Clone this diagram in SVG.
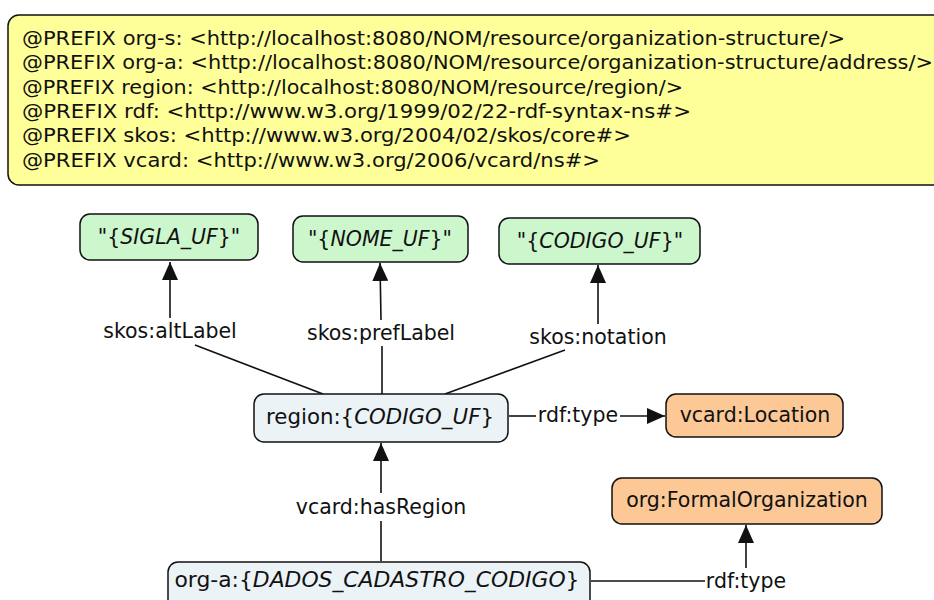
<svg xmlns="http://www.w3.org/2000/svg" width="934" height="600" viewBox="0 0 934 600">
<defs>
<style>
text{font-family:"DejaVu Sans","Verdana",sans-serif;fill:#111;}
.hdr{font-size:19px;}
.lbl{font-size:20.5px;text-anchor:middle;dominant-baseline:central;}
.nd{stroke:#111;stroke-width:1.5;}
.lit{fill:#ccf7cc;}
.res{fill:#ebf3f6;}
.cls{fill:#fbc896;}
.edge{stroke:#111;stroke-width:1.6;fill:none;}
</style>
<marker id="arrL" viewBox="0 0 18 16" refX="18" refY="8" markerWidth="18" markerHeight="16" markerUnits="userSpaceOnUse" orient="auto">
<path d="M0,0 L18,8 L0,16 z" fill="#111"/>
</marker>
</defs>
<rect width="934" height="600" fill="#fff"/>
<g id="prefixes">
<rect x="8" y="15" width="940" height="170" rx="11" fill="#ffff99" class="nd"/>
<text class="hdr" x="22" y="45" textLength="823" lengthAdjust="spacingAndGlyphs">@PREFIX org-s: &lt;http://localhost:8080/NOM/resource/organization-structure/&gt;</text>
<text class="hdr" x="22" y="69" textLength="911" lengthAdjust="spacingAndGlyphs">@PREFIX org-a: &lt;http://localhost:8080/NOM/resource/organization-structure/address/&gt;</text>
<text class="hdr" x="22" y="94" textLength="661" lengthAdjust="spacingAndGlyphs">@PREFIX region: &lt;http://localhost:8080/NOM/resource/region/&gt;</text>
<text class="hdr" x="22" y="118" textLength="669" lengthAdjust="spacingAndGlyphs">@PREFIX rdf: &lt;http://www.w3.org/1999/02/22-rdf-syntax-ns#&gt;</text>
<text class="hdr" x="22" y="142" textLength="609" lengthAdjust="spacingAndGlyphs">@PREFIX skos: &lt;http://www.w3.org/2004/02/skos/core#&gt;</text>
<text class="hdr" x="22" y="167" textLength="578" lengthAdjust="spacingAndGlyphs">@PREFIX vcard: &lt;http://www.w3.org/2006/vcard/ns#&gt;</text>
</g>
<g id="connectors">
<polyline class="edge" points="323,394 195,345"/>
<line class="edge" x1="170" y1="318" x2="170" y2="262" marker-end="url(#arrL)"/>
<text class="lbl" x="170" y="331">skos:altLabel</text>
<line class="edge" x1="382" y1="394" x2="382" y2="346"/>
<line class="edge" x1="381" y1="320" x2="380" y2="263" marker-end="url(#arrL)"/>
<text class="lbl" x="381" y="333">skos:prefLabel</text>
<line class="edge" x1="445" y1="394" x2="565" y2="350"/>
<line class="edge" x1="598" y1="324" x2="598" y2="265" marker-end="url(#arrL)"/>
<text class="lbl" x="598" y="337">skos:notation</text>
<line class="edge" x1="509" y1="416" x2="536" y2="416"/>
<line class="edge" x1="620" y1="416" x2="665" y2="416" marker-end="url(#arrL)"/>
<text class="lbl" x="578" y="415">rdf:type</text>
<line class="edge" x1="381" y1="561" x2="381" y2="521"/>
<line class="edge" x1="381" y1="493" x2="381" y2="443" marker-end="url(#arrL)"/>
<text class="lbl" x="381" y="507">vcard:hasRegion</text>
<line class="edge" x1="591" y1="581" x2="705" y2="581"/>
<line class="edge" x1="746" y1="568" x2="746" y2="525" marker-end="url(#arrL)"/>
<text class="lbl" x="746" y="581">rdf:type</text>
</g>
<g id="sigla">
<rect x="80" y="214" width="178" height="46" rx="10" class="nd lit"/>
<text class="lbl" x="169" y="237">"{<tspan font-style="italic">SIGLA_UF</tspan>}"</text>
</g>
<g id="nome">
<rect x="293" y="216" width="175" height="46" rx="10" class="nd lit"/>
<text class="lbl" x="380" y="239">"{<tspan font-style="italic">NOME_UF</tspan>}"</text>
</g>
<g id="codigo">
<rect x="499" y="218" width="201" height="46" rx="10" class="nd lit"/>
<text class="lbl" x="600" y="241">"{<tspan font-style="italic">CODIGO_UF</tspan>}"</text>
</g>
<g id="region">
<rect x="254" y="394" width="254" height="48" rx="10" class="nd res"/>
<text class="lbl" x="380" y="417" textLength="228" lengthAdjust="spacingAndGlyphs">region:{<tspan font-style="italic">CODIGO_UF</tspan>}</text>
</g>
<g id="location">
<rect x="666" y="394" width="177" height="43" rx="10" class="nd cls"/>
<text class="lbl" x="755" y="415">vcard:Location</text>
</g>
<g id="formalorg">
<rect x="612" y="478" width="270" height="46" rx="10" class="nd cls"/>
<text class="lbl" x="747" y="500">org:FormalOrganization</text>
</g>
<g id="orga">
<rect x="168" y="562" width="422" height="50" rx="10" class="nd res"/>
<text class="lbl" x="377" y="580" textLength="405" lengthAdjust="spacingAndGlyphs">org-a:{<tspan font-style="italic">DADOS_CADASTRO_CODIGO</tspan>}</text>
</g>
</svg>
